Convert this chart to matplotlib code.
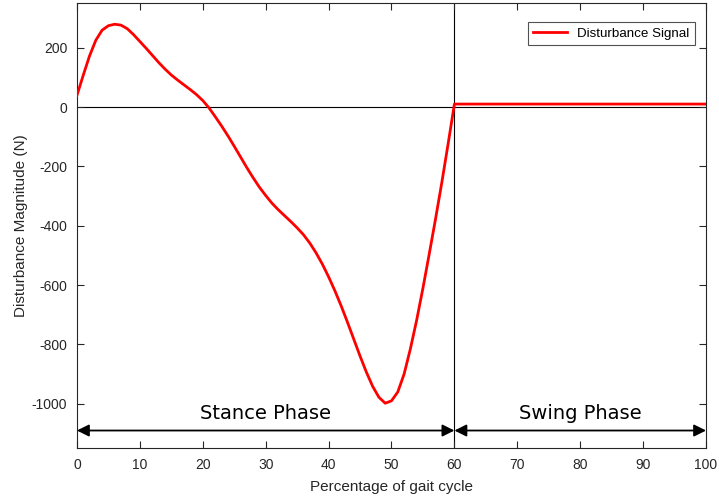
import matplotlib
matplotlib.use("Agg")
import matplotlib.pyplot as plt

# Gait cycle percentage (stance phase sampled each 1%)
stance_x = list(range(0, 61))
stance_y = [39, 107, 172, 225, 259, 274, 279, 276, 264, 244,
            221, 198, 174, 150, 128, 108, 91, 75, 59, 42,
            22, -3, -33, -64, -97, -132, -168, -204, -238, -270,
            -298, -324, -346, -366, -386, -407, -430, -458, -491, -529,
            -572, -619, -670, -725, -782, -839, -893, -941, -978, -998,
            -990, -960, -900, -815, -718, -610, -495, -377, -254, -124,
            10]
swing_x = [60, 100]
swing_y = [10, 10]

xticks = list(range(0, 101, 10))
yticks = list(range(-1000, 201, 200))
phase_labels = ["Stance Phase", "Swing Phase"]
phase_bounds = [(0, 60), (60, 100)]

x = stance_x + swing_x[1:]
y = stance_y + swing_y[1:]

plt.rcParams['axes.unicode_minus'] = False
plt.rcParams['font.family'] = ['Liberation Sans', 'DejaVu Sans']
axc = "#262626"
fig = plt.figure(figsize=(7.19, 5.03), dpi=100)
ax = fig.add_axes([0.107, 0.1087, 0.875, 0.885])

ax.axhline(0, color="black", lw=0.8, zorder=1)
ax.axvline(60, color="black", lw=0.8, zorder=1)
ax.plot(x, y, color="red", lw=2, label="Disturbance Signal", zorder=3,
        solid_joinstyle="round")

ax.set_xlim(0, 100)
ax.set_ylim(-1150, 350)
ax.set_xticks(xticks)
ax.set_yticks(yticks)
for s in ax.spines.values():
    s.set_color(axc)
    s.set_linewidth(0.8)
ax.tick_params(direction="in", top=True, right=True, length=5, width=0.8,
               color=axc, labelcolor=axc, labelsize=10, pad=7)

ax.set_xlabel("Percentage of gait cycle", fontsize=11, color=axc, labelpad=6)
ax.set_ylabel("Disturbance Magnitude (N)", fontsize=11, color=axc, labelpad=3)

arrow_y = -1090
for (a, b), lab in zip(phase_bounds, phase_labels):
    ax.annotate("", xy=(a, arrow_y), xytext=(b, arrow_y),
                arrowprops=dict(arrowstyle="<|-|>", color="black", lw=1.3,
                                mutation_scale=18, shrinkA=0, shrinkB=0),
                zorder=4)
    ax.text((a + b) / 2, arrow_y + 25, lab, ha="center", va="bottom",
            fontsize=14, family="DejaVu Sans", color="black")

leg = ax.legend(loc="upper right", fontsize=9.6, frameon=True, fancybox=False,
                edgecolor=axc, borderpad=0.4, handlelength=2.5,
                bbox_to_anchor=(0.993, 0.973))
leg.get_frame().set_linewidth(0.8)

fig.savefig("out.png", dpi=100)
